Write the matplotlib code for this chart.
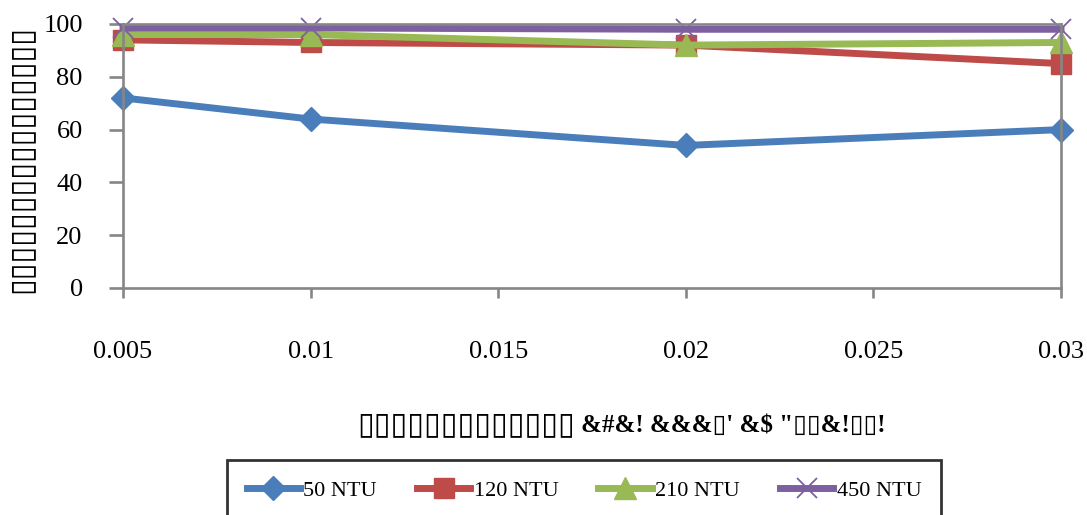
import matplotlib
matplotlib.use("Agg")
import matplotlib.pyplot as plt

# Dose of coagulant (x) and turbidity removal (%) for each initial turbidity
doses = [0.005, 0.01, 0.02, 0.03]
removal_50 = [72, 64, 54, 60]
removal_120 = [94, 93, 92, 85]
removal_210 = [96, 96, 92, 93]
removal_450 = [98.5, 98.5, 98, 98]
series_names = ["50 NTU", "120 NTU", "210 NTU", "450 NTU"]
x_ticks = [0.005, 0.01, 0.015, 0.02, 0.025, 0.03]
x_tick_labels = ["0.005", "0.01", "0.015", "0.02", "0.025", "0.03"]
y_ticks = [0, 20, 40, 60, 80, 100]

x_title_boxes = "\u25af" * 13
x_title_rest = "&#&! &&&\u25af' &$ \"\u25af\u25af&!\u25af\u25af!"
y_title = "\u25af" * 16

plt.rcParams["font.family"] = ["Liberation Serif", "DejaVu Sans"]

fig = plt.figure(figsize=(10.87, 5.15), dpi=100)
ax = fig.add_axes([123 / 1087, 1 - 288 / 515, (1061 - 123) / 1087, (288 - 24) / 515])

styles = [
    dict(color="#4A7EBB", marker="D", markersize=12),
    dict(color="#BE4B48", marker="s", markersize=15),
    dict(color="#98B954", marker="^", markersize=16),
    dict(color="#7D60A0", marker="x", markersize=15, markeredgewidth=1.3),
]
all_series = [removal_50, removal_120, removal_210, removal_450]
handles = []
for vals, name, st in zip(all_series, series_names, styles):
    ln, = ax.plot(doses, vals, linewidth=5, label=name, clip_on=False,
                  solid_joinstyle="round", **st)
    handles.append(ln)

ax.set_xlim(0.005, 0.03)
ax.set_ylim(0, 100)
ax.set_xticks(x_ticks)
ax.set_xticklabels(x_tick_labels)
ax.set_yticks(y_ticks)

grey = "#868686"
for s in ax.spines.values():
    s.set_color(grey)
    s.set_linewidth(1.9)
ax.tick_params(axis="y", direction="out", length=10, width=1.9, color=grey,
               pad=19, labelsize=19)
ax.tick_params(axis="x", direction="out", length=7, width=1.9, color=grey,
               pad=31, labelsize=19)

# axis titles
t1 = fig.text(357 / 1087, 1 - 425 / 515, x_title_boxes, ha="left", va="center",
              fontsize=22, family=["DejaVu Sans"])
fig.canvas.draw()
bb = t1.get_window_extent()
fig.text((bb.x1 + 6) / fig.bbox.width, 1 - 425 / 515, x_title_rest,
         ha="left", va="center", fontsize=18, fontweight="bold")
fig.text(21 / 1087, 1 - 159 / 515, y_title, ha="center", va="center",
         rotation=90, fontsize=22, family=["DejaVu Sans"])

leg = fig.legend(handles=handles, loc="upper center",
                 bbox_to_anchor=(584 / 1087, 1 - 460 / 515), ncol=4,
                 fontsize=16, frameon=True, fancybox=False, handlelength=2.4,
                 handletextpad=0.15, columnspacing=1.8, borderpad=0.9,
                 borderaxespad=0)
leg.get_frame().set_edgecolor("black")
leg.get_frame().set_linewidth(2)

fig.savefig("out.png", dpi=100)
